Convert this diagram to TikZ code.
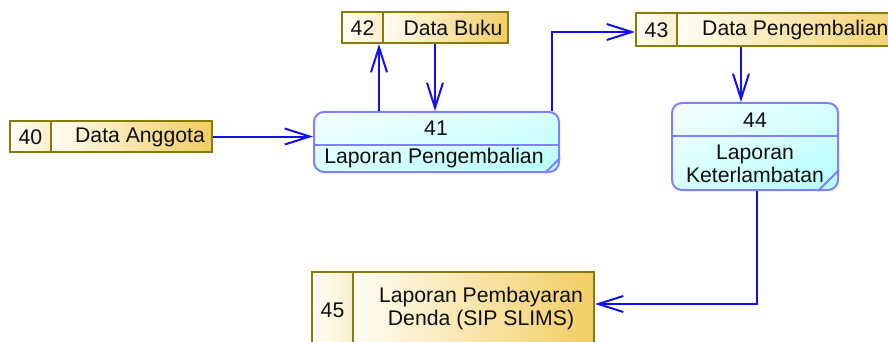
\documentclass[tikz,border=0pt]{standalone}
\usepackage{fontspec}
\setmainfont{Liberation Sans}
\usetikzlibrary{arrows.meta,fit,calc,shadings}

\definecolor{storeline}{RGB}{135,124,8}
\definecolor{storenumA}{RGB}{255,254,246}
\definecolor{storenumB}{RGB}{251,238,205}
\definecolor{storelabA}{RGB}{255,253,244}
\definecolor{storelabB}{RGB}{243,205,98}
\definecolor{procline}{RGB}{128,128,255}
\definecolor{procA}{RGB}{246,255,255}
\definecolor{procB}{RGB}{216,255,255}
\definecolor{procC}{RGB}{180,255,255}
\definecolor{flowblue}{RGB}{16,16,240}
\definecolor{ink}{RGB}{15,15,15}

\tikzset{
  txt/.style={inner sep=0pt, text=ink, font=\fontsize{21.2}{23}\selectfont, align=center},
  storebox/.style={draw=storeline, line width=2pt, inner sep=0pt},
  storediv/.style={draw=storeline, line width=2pt},
  procbox/.style={draw=procline, line width=2pt, rounded corners=10pt,
    upper left=procA, upper right=procB, lower left=procB, lower right=procC},
  procdiv/.style={draw=procline, line width=1.8pt},
  flow/.style={draw=flowblue, line width=2pt,
    -{Straight Barb[length=25pt,width=16pt,line width=2pt]}},
}

% data store: name, left, top, divider, right, bottom
\newcommand\datastore[6]{%
  \shade[left color=storenumA, right color=storenumB] (#2,#3) rectangle (#4,#6);
  \shade[left color=storelabA, right color=storelabB] (#4,#3) rectangle (#5,#6);
  \coordinate (#1-nw) at (#2,#3);
  \coordinate (#1-se) at (#5,#6);
  \node[storebox, fit=(#1-nw)(#1-se)] (#1) {};
  \draw[storediv] (#4,#3) -- (#4,#6);
}

\begin{document}
\begin{tikzpicture}[x=1pt,y=-1pt]
\useasboundingbox (0,0) rectangle (888,342);
\clip (0,0) rectangle (888,342);

% data stores
\datastore{ds40}{10}{121}{51}{212}{152}
\node[txt] (n40) at (30.5,137) {40};
\node[txt] (l40) at (140,137) {Data Anggota};

\datastore{ds42}{342}{12}{383}{508}{43}
\node[txt] (n42) at (362.5,28) {42};
\node[txt] (l42) at (453,28) {Data Buku};

\datastore{ds43}{636}{13}{677}{920}{46}
\node[txt] (n43) at (656.5,30) {43};
\node[txt, anchor=west] (l43) at (702,30) {Data Pengembalian};

\datastore{ds45}{312}{272}{353}{594}{360}
\node[txt] (n45) at (332.5,310) {45};
\node[txt] (l45) at (481,309) {Laporan Pembayaran\\ Denda (SIP SLIMS)};

% processes
\node[procbox, minimum width=245pt, minimum height=60pt] (p41) at (436.5,142) {};
\draw[procdiv] (314,145) -- (559,145);
\draw[procdiv] ($(p41.south east)+(-15,0)$) -- ($(p41.south east)+(0,-15)$);
\node[txt] (n41) at (436,128) {41};
\node[txt] (l41) at (434,158) {Laporan Pengembalian};

\node[procbox, minimum width=166pt, minimum height=87pt] (p44) at (755,146.5) {};
\draw[procdiv] (672,136) -- (838,136);
\draw[procdiv] ($(p44.south east)+(-21,0)$) -- ($(p44.south east)+(0,-21)$);
\node[txt] (n44) at (755,120) {44};
\node[txt] (l44) at (755,164) {Laporan\\ Keterlambatan};

% data flows
\coordinate (xa) at (379,0);
\coordinate (xb) at (435,0);
\coordinate (xc) at (552,0);
\coordinate (yc) at (0,32);
\coordinate (xd) at (741,0);
\coordinate (xe) at (757,0);
\coordinate (ye) at (0,304);

\draw[flow] (ds40.east) -- (ds40.east -| p41.west);
\draw[flow] (xa |- p41.north) -- (xa |- ds42.south);
\draw[flow] (xb |- ds42.south) -- (xb |- p41.north);
\draw[flow] (xc |- p41.north) |- (yc -| ds43.west);
\draw[flow] (xd |- ds43.south) -- (xd |- p44.north);
\draw[flow] (xe |- p44.south) |- (ye -| ds45.east);
\end{tikzpicture}
\end{document}
